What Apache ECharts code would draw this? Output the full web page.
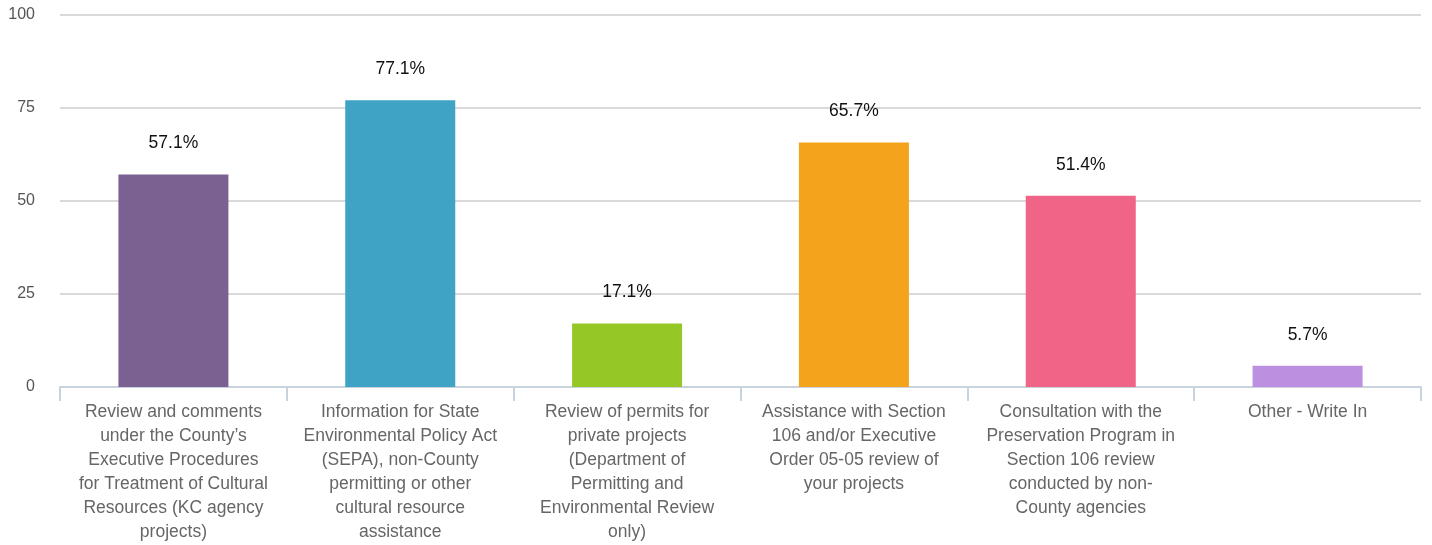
<!DOCTYPE html>
<html>
<head>
<meta charset="utf-8">
<script src="https://cdn.jsdelivr.net/npm/echarts@6/dist/echarts.min.js"></script>
<style>html,body{margin:0;padding:0;background:#fff;}#c{width:1432px;height:545px;}</style>
</head>
<body>
<div id="c"></div>
<script>
var categories = [
  "Review and comments\nunder the County\u2019s\nExecutive Procedures\nfor Treatment of Cultural\nResources (KC agency\nprojects)",
  "Information for State\nEnvironmental Policy Act\n(SEPA), non-County\npermitting or other\ncultural resource\nassistance",
  "Review of permits for\nprivate projects\n(Department of\nPermitting and\nEnvironmental Review\nonly)",
  "Assistance with Section\n106 and/or Executive\nOrder 05-05 review of\nyour projects",
  "Consultation with the\nPreservation Program in\nSection 106 review\nconducted by non-\nCounty agencies",
  "Other - Write In"
];
var values = [57.1, 77.1, 17.1, 65.7, 51.4, 5.7];
var colors = ["#7b6192", "#3ea3c4", "#95c826", "#f4a41c", "#f06487", "#bc8fe0"];
var yTicks = [0, 25, 50, 75, 100];

var chart = echarts.init(document.getElementById('c'), null, {renderer: 'canvas'});
chart.setOption({
  animation: false,
  textStyle: {fontFamily: 'Liberation Sans, Arial, sans-serif'},
  grid: {left: 60, right: 11, top: 15, bottom: 158},
  xAxis: {
    type: 'category',
    data: categories,
    axisLine: {lineStyle: {color: '#c8d3de', width: 2}},
    axisTick: {show: true, length: 14, lineStyle: {color: '#c8d3de', width: 2}},
    axisLabel: {color: '#666', fontSize: 17.5, lineHeight: 24, margin: 13, interval: 0, align: 'center'}
  },
  yAxis: {
    type: 'value', min: 0, max: 100, interval: 25,
    axisLine: {show: false}, axisTick: {show: false},
    axisLabel: {color: '#555', fontSize: 16, margin: 25, padding: [4, 0, 0, 0],
      formatter: function (v) { return yTicks.indexOf(v) >= 0 ? String(v) : ''; }},
    splitLine: {lineStyle: {color: '#cccccc', width: 1.5}}
  },
  series: [{
    type: 'bar',
    data: values.map(function (v, i) { return {value: v, itemStyle: {color: colors[i]}}; }),
    barWidth: '48.5%',
    label: {show: true, position: 'top', distance: 22, color: '#111', fontSize: 17.5,
      formatter: function (p) { return p.value.toFixed(1) + '%'; }}
  }]
});
</script>
</body>
</html>
